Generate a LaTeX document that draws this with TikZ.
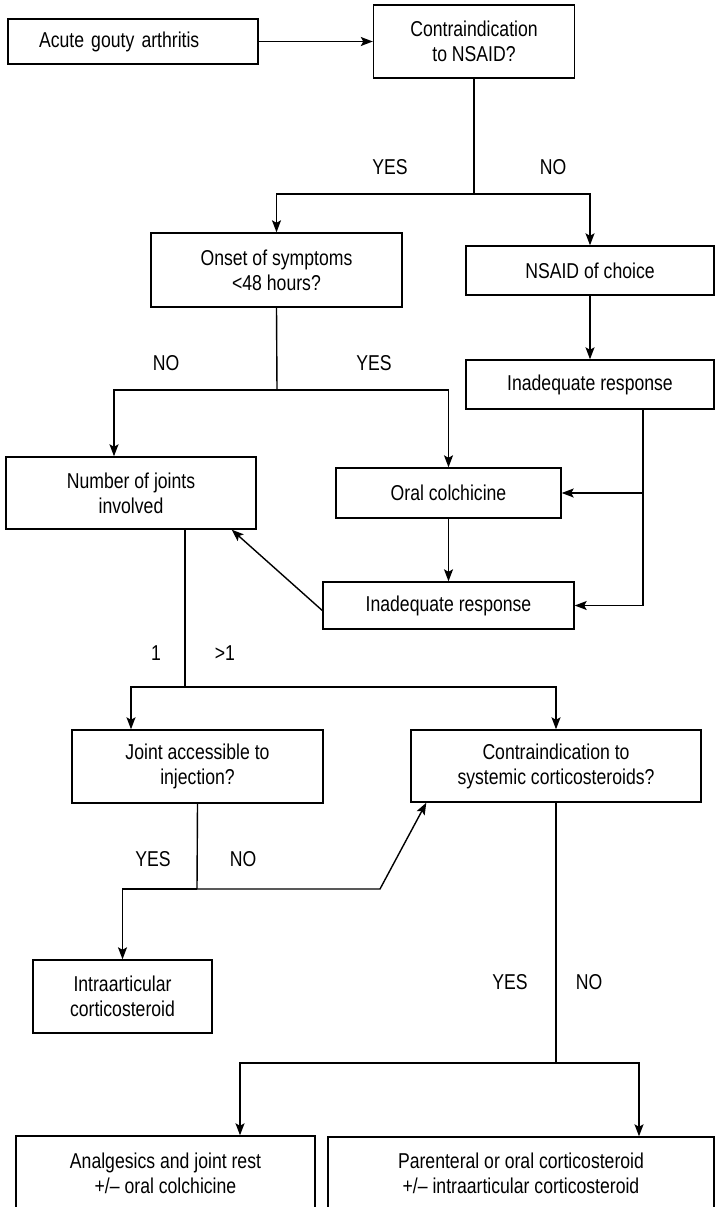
\documentclass[tikz,border=0pt]{standalone}
\usepackage{fontspec}
\setmainfont{Liberation Sans}[FakeStretch=0.82]
\usetikzlibrary{arrows.meta}

\begin{document}
\begin{tikzpicture}[x=1pt,y=1pt,
  line width=1.4pt,
  txt/.style={font=\fontsize{21.5}{25}\selectfont},
  box/.style={draw, txt, align=center, inner sep=0pt},
  lbl/.style={txt, inner sep=0pt},
  arr/.style={-{Stealth[length=12pt,width=9pt,inset=2.5pt]}}]

\useasboundingbox (0,0) rectangle (715,-1207);
\clip (0,0) rectangle (715,-1207);

% boxes
\node[box, minimum width=250, minimum height=45, text width=188, inner xsep=31, align=left] (A) at (133,-41.5) {Acute gouty arthritis};
\node[box, minimum width=201, minimum height=73] (B) at (474,-41.5) {Contraindication\\to NSAID?};
\node[box, minimum width=251, minimum height=74] (C) at (276.5,-270) {Onset of symptoms\\<48 hours?};
\node[box, minimum width=248, minimum height=49] (D) at (590,-270.5) {NSAID of choice};
\node[box, minimum width=248, minimum height=49] (E) at (590,-384.5) {Inadequate response};
\node[box, minimum width=250, minimum height=72] (F) at (131,-493) {Number of joints\\involved};
\node[box, minimum width=225, minimum height=50] (G) at (448.5,-493) {Oral colchicine};
\node[box, minimum width=251, minimum height=47] (H) at (448.5,-605.5) {Inadequate response};
\node[box, minimum width=251, minimum height=73] (I) at (197.5,-766.5) {Joint accessible to\\injection?};
\node[box, minimum width=290, minimum height=72] (J) at (556,-766) {Contraindication to\\systemic corticosteroids?};
\node[box, minimum width=179, minimum height=73] (I2) at (122.5,-996.5) {Intraarticular\\corticosteroid};
\node[box, minimum width=299, minimum height=74] (K) at (165.5,-1173) {Analgesics and joint rest\\+/– oral colchicine};
\node[box, minimum width=386, minimum height=72] (L) at (521,-1173) {Parenteral or oral corticosteroid\\+/– intraarticular corticosteroid};

% branch labels
\node[lbl] (y1) at (390,-167) {YES};
\node[lbl] (n1) at (553,-167) {NO};
\node[lbl] (n2) at (166,-363) {NO};
\node[lbl] (y2) at (374,-363) {YES};
\node[lbl] (o1) at (156,-653) {1};
\node[lbl] (o2) at (225,-653) {>1};
\node[lbl] (y3) at (153,-859) {YES};
\node[lbl] (n3) at (243,-859) {NO};
\node[lbl] (y4) at (510,-982) {YES};
\node[lbl] (n4) at (589,-982) {NO};

% junction points
\coordinate (s1) at (474,-194);
\coordinate (s2) at (277,-390);
\coordinate (s4) at (185,-687);
\coordinate (s5) at (197,-889);
\coordinate (k1) at (380,-889);
\coordinate (s6) at (556,-1063);

% connectors
\draw[arr] (A.east) -- (B.west);
\draw (B.south) -- (s1);
\draw[arr] (s1) -| (C.north);
\draw[arr] (s1) -| (D.north);
\draw[arr] (D.south) -- (E.north);

\draw (C.south) -- (s2);
\draw[arr] (s2) -| ([xshift=-17pt]F.north);
\draw[arr] (s2) -| (G.north);

\draw[arr] ([xshift=53pt]E.south) |- (G.east);
\draw[arr] ([xshift=53pt]E.south) |- (H.east);
\draw[arr] (G.south) -- (H.north);
\draw[arr] ([yshift=-5pt]H.west) -- ([xshift=-25pt]F.south east);

\draw ([xshift=54pt]F.south) -- (s4);
\draw[arr] (s4) -| ([xshift=-66.5pt]I.north);
\draw[arr] (s4) -| (J.north);

\draw (I.south) -- (s5);
\draw[arr] (s5) -| (I2.north);
\draw[arr] (s5) -- (k1) -- ([xshift=16pt]J.south west);

\draw (J.south) -- (s6);
\draw[arr] (s6) -| ([xshift=74.5pt]K.north);
\draw[arr] (s6) -| ([xshift=118pt]L.north);
\end{tikzpicture}
\end{document}
